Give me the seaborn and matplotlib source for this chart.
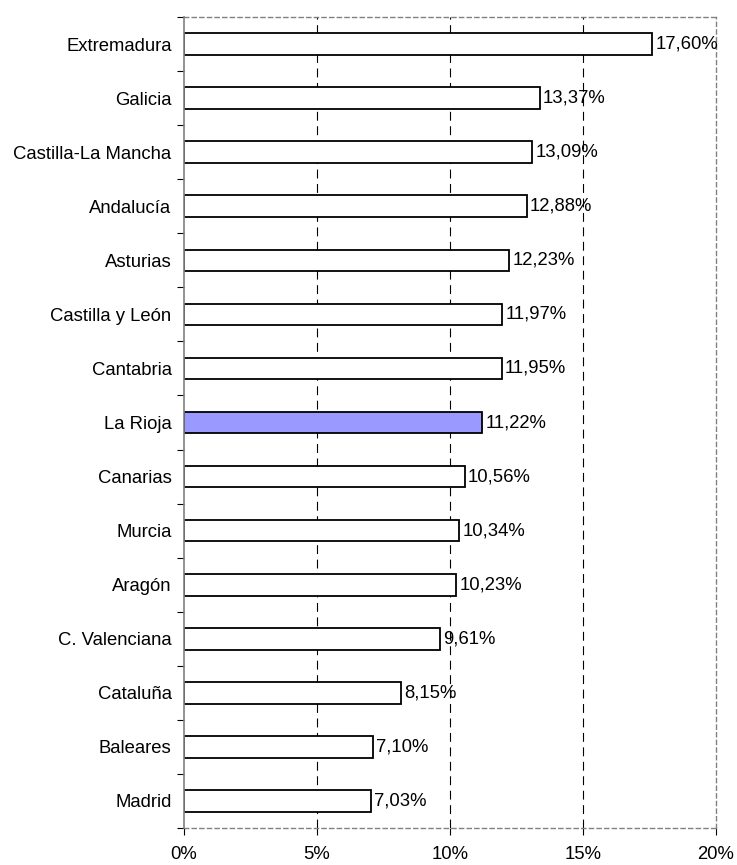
import matplotlib
matplotlib.use("Agg")
import matplotlib.pyplot as plt
import seaborn as sns
import pandas as pd
from matplotlib.ticker import FixedLocator, FuncFormatter

regions = ["Extremadura", "Galicia", "Castilla-La Mancha", "Andalucía", "Asturias",
           "Castilla y León", "Cantabria", "La Rioja", "Canarias", "Murcia",
           "Aragón", "C. Valenciana", "Cataluña", "Baleares", "Madrid"]
values = [17.60, 13.37, 13.09, 12.88, 12.23, 11.97, 11.95, 11.22, 10.56, 10.34,
          10.23, 9.61, 8.15, 7.10, 7.03]
highlight = "La Rioja"
x_ticks = [0, 5, 10, 15, 20]

df = pd.DataFrame({"region": regions, "value": values})
palette = {r: ("#9999FF" if r == highlight else "white") for r in regions}

sns.set_style("white")
plt.rcParams["font.family"] = ["Liberation Sans", "DejaVu Sans"]
fs = 13.3

fig = plt.figure(figsize=(7.37, 8.65), dpi=100)
ax = fig.add_axes([0.2497, 0.0428, 0.7218, 0.9375])

sns.barplot(data=df, x="value", y="region", hue="region", palette=palette,
            order=regions, legend=False, width=0.4, edgecolor="black",
            linewidth=1.3, ax=ax, saturation=1)

ax.set_xlim(0, 20)
ax.set_ylim(len(regions) - 0.5, -0.5)
ax.set_xlabel("")
ax.set_ylabel("")

for t in x_ticks[1:-1]:
    ax.axvline(t, color="black", linestyle=(0, (8, 5)), linewidth=0.8, zorder=0)

for i, v in enumerate(values):
    ax.text(v + 0.12, i, f"{v:.2f}%".replace(".", ","), va="center", ha="left",
            fontsize=fs, color="black")

ax.xaxis.set_major_locator(FixedLocator(x_ticks))
ax.xaxis.set_major_formatter(FuncFormatter(lambda x, p: f"{x:.0f}%"))
ax.tick_params(axis="x", direction="out", length=5, width=0.8, color="black",
               labelsize=fs, labelcolor="black", pad=8, bottom=True)
ax.tick_params(axis="y", which="major", length=0, labelsize=fs,
               labelcolor="black", pad=9)
ax.yaxis.set_minor_locator(FixedLocator([i - 0.5 for i in range(len(regions) + 1)]))
ax.tick_params(axis="y", which="minor", direction="out", length=5, width=0.8,
               color="black", left=True)

for side in ["top", "right", "bottom"]:
    ax.spines[side].set_color("#808080")
    ax.spines[side].set_linestyle((0, (3, 2.5)))
    ax.spines[side].set_linewidth(1.0)
ax.spines["left"].set_color("#808080")
ax.spines["left"].set_linewidth(1.2)

fig.savefig("out.png", dpi=100)
